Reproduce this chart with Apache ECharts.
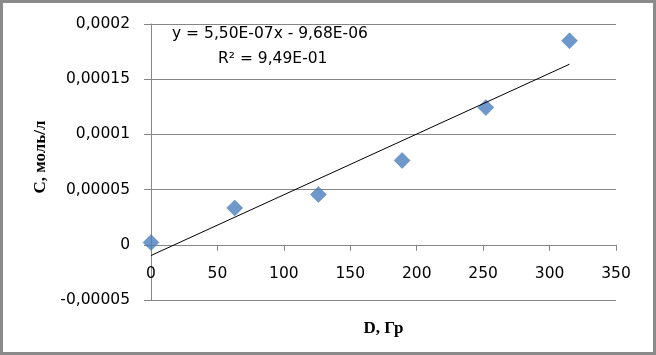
<!DOCTYPE html>
<html>
<head>
<meta charset="utf-8">
<script src="https://cdn.jsdelivr.net/npm/echarts@6/dist/echarts.min.js"></script>
<style>html,body{margin:0;padding:0;background:#fff}#c{width:656px;height:355px}</style>
</head>
<body>
<div id="c"></div>
<script>
const doseValues = [0, 63, 126, 189, 252, 315];
const concValues = [0.000002, 0.0000334, 0.0000455, 0.0000764, 0.0001243, 0.0001848];
const trendX = [0, 315];
const trendY = [-0.00000968, 0.00016357];
const xTickLabels = ['0', '50', '100', '150', '200', '250', '300', '350'];
const yTickLabels = ['-0,00005', '0', '0,00005', '0,0001', '0,00015', '0,0002'];
const equationText = 'y = 5,50E-07x - 9,68E-06';
const r2Text = 'R² = 9,49E-01';
const xTitle = 'D, Гр';
const yTitle = 'C, моль/л';

const xMin = 0, xMax = 350, xStep = 50;
const yMin = -0.00005, yMax = 0.0002, yStep = 0.00005;

const gridTop = 24, gridBottom = 55, chartH = 355;
const plotH = chartH - gridTop - gridBottom;
const zeroOffset = -plotH * (0 - yMin) / (yMax - yMin);

const chart = echarts.init(document.getElementById('c'), null, {renderer: 'canvas'});
const grid = '#868686';
const tickFont = 'DejaVu Sans';

chart.setOption({
  animation: false,
  backgroundColor: '#ffffff',
  grid: {left: 151, right: 40, top: gridTop, bottom: gridBottom, containLabel: false, outerBoundsMode: 'none'},
  xAxis: {
    type: 'value', min: xMin, max: xMax, interval: xStep,
    position: 'bottom', offset: zeroOffset,
    name: xTitle, nameLocation: 'middle', nameGap: 75,
    nameTextStyle: {fontFamily: 'Liberation Serif', fontWeight: 'bold', fontSize: 17, color: '#000'},
    axisLine: {show: true, onZero: false, lineStyle: {color: grid, width: 1}},
    axisTick: {show: true, inside: false, length: 6, lineStyle: {color: grid}},
    axisLabel: {margin: 21, color: '#000', fontFamily: tickFont, fontSize: 15.5,
      formatter: (v) => xTickLabels[Math.round((v - xMin) / xStep)]},
    splitLine: {show: false}
  },
  yAxis: {
    type: 'value', min: yMin, max: yMax, interval: yStep,
    axisLine: {show: true, onZero: false, lineStyle: {color: grid, width: 1}},
    axisTick: {show: true, inside: false, length: 7, lineStyle: {color: grid}},
    axisLabel: {margin: 21, color: '#000', fontFamily: tickFont, fontSize: 15.5,
      formatter: (v) => yTickLabels[Math.round((v - yMin) / yStep)]},
    splitLine: {show: true, lineStyle: {color: grid, width: 1}}
  },
  graphic: [
    {type: 'rect', silent: true, z: 100,
     shape: {x: 1.5, y: 1.5, width: 653, height: 352},
     style: {fill: 'none', stroke: '#8a8a8a', lineWidth: 3}},
    {type: 'text', left: 172, top: 26, z: 50,
     style: {text: equationText, fontFamily: tickFont, fontSize: 15.5, fill: '#000'}},
    {type: 'text', left: 218, top: 51, z: 50,
     style: {text: r2Text, fontFamily: tickFont, fontSize: 15.5, fill: '#000'}},
    {type: 'text', x: 41, y: 157, rotation: Math.PI / 2, z: 50,
     style: {text: yTitle, fontFamily: 'Liberation Serif', fontWeight: 'bold', fontSize: 17,
       fill: '#000', align: 'center', verticalAlign: 'middle'}}
  ],
  series: [
    {
      type: 'scatter', name: 'C',
      data: doseValues.map((d, i) => [d, concValues[i]]),
      symbol: 'diamond', symbolSize: 16,
      itemStyle: {color: '#4A7EBB', borderColor: '#3f70aa', borderWidth: 0.5},
      z: 2
    },
    {
      type: 'line', name: 'trend',
      data: trendX.map((d, i) => [d, trendY[i]]),
      symbol: 'none', lineStyle: {color: '#000', width: 1},
      z: 3
    }
  ]
});
</script>
</body>
</html>
